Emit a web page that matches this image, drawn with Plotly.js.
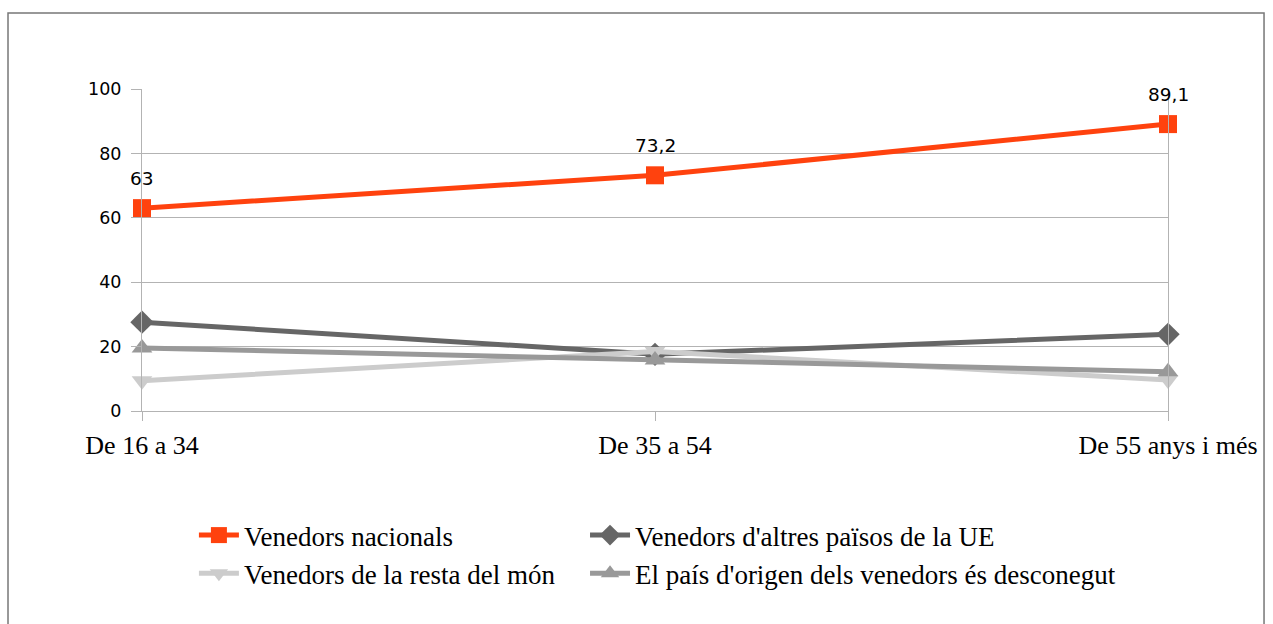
<!DOCTYPE html>
<html>
<head>
<meta charset="utf-8">
<script src="https://cdn.plot.ly/plotly-3.0.1.min.js"></script>
<style>
html,body{margin:0;padding:0;background:#fff;}
#chart{width:1273px;height:624px;}
</style>
</head>
<body>
<div id="chart"></div>
<script>
const categories = ["De 16 a 34", "De 35 a 54", "De 55 anys i més"];
const nacionals = [63, 73.2, 89.1];
const altresUE = [27.6, 17.6, 23.8];
const restaMon = [9.4, 18.5, 9.6];
const desconegut = [19.6, 15.8, 12.2];
const seriesNames = [
  "Venedors nacionals",
  "Venedors d'altres països de la UE",
  "Venedors de la resta del món",
  "El país d'origen dels venedors és desconegut"
];
const yTicks = [0, 20, 40, 60, 80, 100];

const traces = [
  {
    x: categories, y: nacionals, name: seriesNames[0], type: "scatter", mode: "lines+markers", legend: "legend",
    line: {color: "#ff420e", width: 5}, marker: {symbol: "square", size: 18, color: "#ff420e"}, cliponaxis: false
  },
  {
    x: categories, y: altresUE, name: seriesNames[1], type: "scatter", mode: "lines+markers", legend: "legend2",
    line: {color: "#666666", width: 5}, marker: {symbol: "diamond", size: 18, color: "#666666"}, cliponaxis: false
  },
  {
    x: categories, y: restaMon, name: seriesNames[2], type: "scatter", mode: "lines+markers", legend: "legend",
    line: {color: "#cccccc", width: 5}, marker: {symbol: "triangle-down", size: 18, color: "#cccccc"}, cliponaxis: false
  },
  {
    x: categories, y: desconegut, name: seriesNames[3], type: "scatter", mode: "lines+markers", legend: "legend2",
    line: {color: "#999999", width: 5}, marker: {symbol: "triangle-up", size: 18, color: "#999999"}, cliponaxis: false
  }
];

const annotations = categories.map((c, i) => ({
  x: c, y: nacionals[i], xref: "x", yref: "y",
  text: String(nacionals[i]).replace(".", ","), showarrow: false,
  yanchor: "bottom", yshift: 17,
  font: {family: "DejaVu Sans", size: 18.5, color: "#000"}
}));

const legendFont = {family: "Liberation Serif", size: 27, color: "#000"};

const layout = {
  width: 1273, height: 624,
  margin: {l: 142, r: 105, t: 89, b: 213, pad: 0},
  paper_bgcolor: "#fff", plot_bgcolor: "#fff",
  showlegend: true,
  annotations: annotations,
  xaxis: {
    type: "category", range: [0, 2], showgrid: false, zeroline: false,
    showline: true, linecolor: "#b3b3b3", linewidth: 1,
    ticks: "outside", ticklen: 9, tickcolor: "#b3b3b3",
    tickfont: {family: "Liberation Serif", size: 26, color: "#000"},
    ticklabelstandoff: 2, fixedrange: true
  },
  yaxis: {
    range: [0, 100], tickvals: yTicks, ticktext: yTicks.map(String),
    showgrid: true, gridcolor: "#b3b3b3", gridwidth: 1, zeroline: false,
    showline: true, mirror: true, linecolor: "#b3b3b3", linewidth: 1,
    ticks: "outside", ticklen: 10, tickcolor: "#b3b3b3",
    tickfont: {family: "DejaVu Sans", size: 17.5, color: "#000"},
    ticklabelstandoff: 6, fixedrange: true
  },
  legend: {
    orientation: "v", x: 0.0506, xanchor: "left", y: -0.3107, yanchor: "top",
    font: legendFont, tracegroupgap: 0, itemwidth: 40, bgcolor: "rgba(0,0,0,0)",
    traceorder: "normal"
  },
  legend2: {
    orientation: "v", x: 0.4318, xanchor: "left", y: -0.3107, yanchor: "top",
    font: legendFont, tracegroupgap: 0, itemwidth: 40, bgcolor: "rgba(0,0,0,0)",
    traceorder: "normal"
  },
  shapes: [{
    type: "rect", xref: "paper", yref: "paper",
    x0: -0.1306, x1: 1.0936, y0: -1, y1: 1.236,
    line: {color: "#777777", width: 1.5}, fillcolor: "rgba(0,0,0,0)", layer: "below"
  }]
};

Plotly.newPlot("chart", traces, layout, {staticPlot: true, displayModeBar: false});
</script>
</body>
</html>
